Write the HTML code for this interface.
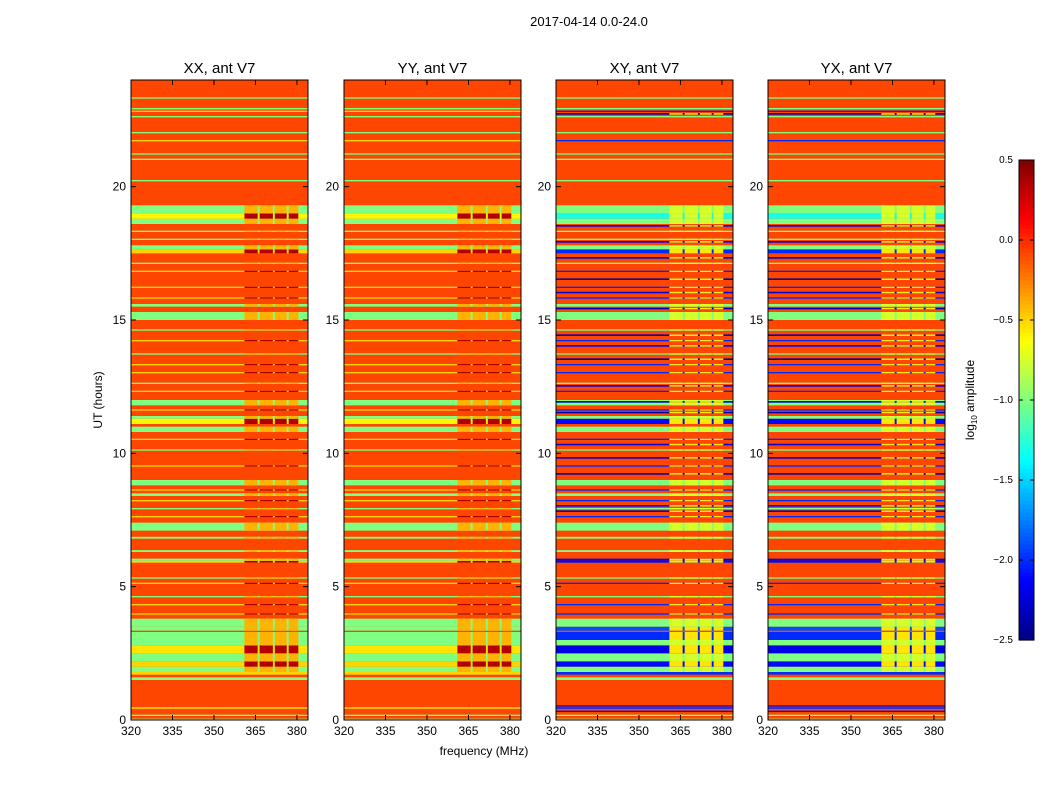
<!DOCTYPE html>
<html><head><meta charset="utf-8"><style>
body{margin:0;background:#fff;font-family:"Liberation Sans",sans-serif}
</style></head><body>
<svg id="fig" width="1050" height="800" xmlns="http://www.w3.org/2000/svg" font-family="Liberation Sans, sans-serif">
<text x="589" y="26" font-size="13" text-anchor="middle">2017-04-14 0.0-24.0</text>
<text x="484" y="755" font-size="12" text-anchor="middle">frequency (MHz)</text>
<text x="0" y="0" font-size="12" text-anchor="middle" transform="translate(102,400) rotate(-90)">UT (hours)</text>
<g id="panels"></g>
<g id="cbar"></g>
<text x="0" y="0" font-size="12" text-anchor="middle" transform="translate(974,400) rotate(-90)">log<tspan font-size="8" dy="3">10</tspan><tspan dy="-3"> amplitude</tspan></text>
</svg>
<script>
// ---- data ----
const panelTitles = ["XX, ant V7","YY, ant V7","XY, ant V7","YX, ant V7"];
const panelIsCross = [false,false,true,true];
const xTicks = [320,335,350,365,380];
const yTicks = [0,5,10,15,20];
const cbTicks = [0.5,0.0,-0.5,-1.0,-1.5,-2.0,-2.5];
const baseValue = -0.08;
// bands: start hour, end hour, parallel value, cross value
const bandStart = [0.0,0.15,0.3,0.42,0.5,1.5,1.7,1.8,2.0,2.2,2.5,2.8,3.0,3.35,3.5,3.95,4.3,4.6,5.1,5.3,5.9,5.97,6.3,6.8,7.1,7.6,7.9,8.2,8.4,8.6,8.8,9.5,10.1,10.5,10.8,11.1,11.3,11.6,11.8,12.3,12.6,13.0,13.3,13.7,14.2,14.6,15.0,15.5,15.8,16.2,16.8,17.1,17.5,17.65,18.0,18.3,18.6,18.8,19.0,20.2,21.0,21.2,21.7,22.0,22.6,22.8,22.9,23.3];
const bandEnd   = [0.05,0.2,0.35,0.48,0.55,1.6,1.8,2.0,2.2,2.5,2.8,3.0,3.3,3.5,3.8,4.0,4.35,4.65,5.15,5.35,5.97,6.05,6.37,6.87,7.4,7.65,7.95,8.25,8.5,8.65,9.0,9.55,10.15,10.55,11.0,11.3,11.4,11.65,12.0,12.35,12.65,13.05,13.35,13.75,14.25,14.65,15.3,15.6,15.85,16.25,16.85,17.15,17.65,17.8,18.05,18.35,18.8,19.0,19.3,20.25,21.05,21.25,21.75,22.05,22.65,22.85,22.95,23.35];
const parVals   = [-1.0,-1.0,-0.08,-0.5,-0.08,-1.0,-0.5,-1.0,-0.5,-1.0,-0.55,-1.0,-1.0,-1.0,-1.0,-0.5,-0.5,-1.0,-0.5,-1.0,-0.5,-1.0,-1.0,-1.0,-1.0,-0.5,-1.0,-0.5,-1.0,-0.5,-1.0,-0.5,-1.0,-0.5,-1.0,-0.6,-1.0,-0.5,-1.0,-0.5,-1.0,-0.5,-0.5,-1.0,-0.5,-1.0,-1.0,-1.0,-0.5,-0.5,-0.5,-1.0,-0.5,-1.0,-1.0,-1.0,-1.0,-0.6,-1.0,-1.0,-1.0,-1.0,-0.5,-1.0,-1.0,-0.5,-1.0,-1.0];
const crossVals = [-1.0,-1.0,-2.1,-2.0,-2.1,-1.0,-2.0,-1.0,-2.1,-1.0,-2.2,-1.0,-2.0,-1.9,-1.0,-2.0,-2.0,-1.0,-2.0,-1.0,-2.1,-2.2,-1.0,-1.0,-1.0,-2.0,-1.0,-2.0,-1.0,-2.0,-1.0,-2.0,-1.0,-2.0,-1.0,-2.1,-1.0,-2.0,-1.0,-2.0,-1.0,-2.0,-2.0,-1.0,-2.0,-1.0,-1.0,-1.0,-2.0,-2.0,-2.0,-1.0,-2.0,-1.0,-1.0,-1.0,-1.0,-1.3,-1.0,-1.0,-1.0,-1.0,-2.0,-1.0,-1.0,-2.0,-1.0,-1.0];
// extra cross-pol dark lines
const crossLineStart = [7.8,8.0,9.2,9.8,10.3,11.5,11.9,12.5,13.5,14.0,14.4,15.4,16.0,16.5,17.3,17.9,18.5,22.7];
const crossLineVal   = [-2.3,-2.1,-2.4,-2.3,-2.2,-2.4,-2.3,-2.2,-2.4,-2.2,-2.3,-2.3,-2.2,-2.4,-2.3,-2.2,-2.2,-2.3];
// RFI channel blocks (MHz)
const rfiStart = [361.0,366.5,372.0,377.0];
const rfiEnd   = [365.8,371.3,376.3,380.5];
const rfiHours = [1.8,19.3];

// ---- layout ----
const panelX = [131,344,556,768], PW = 177, PT = 80, PB = 720;
const fMin = 320, fMax = 384, tMin = 0, tMax = 24;
const NS = "http://www.w3.org/2000/svg";
function jet(v){
  let f = (v + 2.5) / 3; f = Math.max(0, Math.min(1, f));
  const c = x => Math.max(0, Math.min(1, x));
  const r = c(1.5 - Math.abs(4*f - 3)), g = c(1.5 - Math.abs(4*f - 2)), b = c(1.5 - Math.abs(4*f - 1));
  return `rgb(${Math.round(r*255)},${Math.round(g*255)},${Math.round(b*255)})`;
}
function mk(tag, attrs, parent){ const e = document.createElementNS(NS, tag); for (const k in attrs) e.setAttribute(k, attrs[k]); parent.appendChild(e); return e; }
const panels = document.getElementById('panels');
panelTitles.forEach((title, p) => {
  const x0 = panelX[p];
  const xs = f => x0 + (f - fMin) / (fMax - fMin) * PW;
  const ys = t => PB - (t - tMin) / (tMax - tMin) * (PB - PT);
  const g = mk('g', {}, panels);
  
  
  const bg = mk('rect', {x:x0, y:PT, width:PW, height:PB-PT, fill:jet(baseValue)}, g);
  
  
  const cross = panelIsCross[p];
  function band(t0, t1, v, inRfi){
    const y1 = ys(t1), h = Math.max(1.2, ys(t0) - ys(t1));
    const r = mk('rect', {x:x0, y:y1, width:PW, height:h, fill:jet(v)}, g);
    
    
    if (inRfi && v < -0.3) {
      rfiStart.forEach((fs, k) => {
        let rv;
        if (cross) rv = v < -1.5 ? -0.55 : -0.75;
        else rv = v > -0.8 ? 0.35 : -0.4;
        const rr = mk('rect', {x:xs(fs), y:y1, width:xs(rfiEnd[k]) - xs(fs), height:h, fill:jet(rv)}, g);
        
        
      });
    }
  }
  bandStart.forEach((t0, i) => {
    const v = cross ? crossVals[i] : parVals[i];
    band(t0, bandEnd[i], v, t0 >= rfiHours[0] && t0 <= rfiHours[1]);
  });
  if (cross) crossLineStart.forEach((t0, i) => band(t0, t0 + 0.06, crossLineVal[i], true));
  const fr = mk('rect', {x:x0, y:PT, width:PW, height:PB-PT, fill:'none', stroke:'#000', 'stroke-width':1}, g);
  
  
  const tt = mk('text', {x:x0 + PW/2, y:PT - 7, 'font-size':15, 'text-anchor':'middle'}, g);
  tt.textContent = title;
  
  
  xTicks.forEach(f => {
    const x = xs(f);
    mk('line', {x1:x, x2:x, y1:PB, y2:PB-5, stroke:'#000'}, g);
    mk('line', {x1:x, x2:x, y1:PT, y2:PT+5, stroke:'#000'}, g);
    const l = mk('text', {x:x, y:PB + 15, 'font-size':12, 'text-anchor':'middle'}, g);
    l.textContent = f;
    
    
  });
  yTicks.forEach(t => {
    const y = ys(t);
    mk('line', {x1:x0, x2:x0+5, y1:y, y2:y, stroke:'#000'}, g);
    mk('line', {x1:x0+PW, x2:x0+PW-5, y1:y, y2:y, stroke:'#000'}, g);
    const l = mk('text', {x:x0 - 5, y:y + 4, 'font-size':12, 'text-anchor':'end'}, g);
    l.textContent = t;
    
    
  });
});
// colorbar
const cb = document.getElementById('cbar');
const cbX = 1019, cbW = 15, cbT = 160, cbB = 640;
const cbY = v => cbB - (v + 2.5) / 3 * (cbB - cbT);
for (let i = 0; i < 120; i++) {
  const v = -2.5 + (i + 0.5) * 3 / 120;
  mk('rect', {x:cbX, y:cbB - (i+1)*(cbB-cbT)/120, width:cbW, height:(cbB-cbT)/120 + 0.6, fill:jet(v)}, cb);
}
mk('rect', {x:cbX, y:cbT, width:cbW, height:cbB-cbT, fill:'none', stroke:'#000'}, cb);
cbTicks.forEach(v => {
  const y = cbY(v);
  mk('line', {x1:cbX, x2:cbX+4, y1:y, y2:y, stroke:'#000'}, cb);
  mk('line', {x1:cbX+cbW, x2:cbX+cbW-4, y1:y, y2:y, stroke:'#000'}, cb);
  const l = mk('text', {x:cbX - 6, y:y + 3, 'font-size':10, 'text-anchor':'end'}, cb);
  l.textContent = v.toFixed(1).replace('-', '\u2212');
  
  
});
</script>
</body></html>
